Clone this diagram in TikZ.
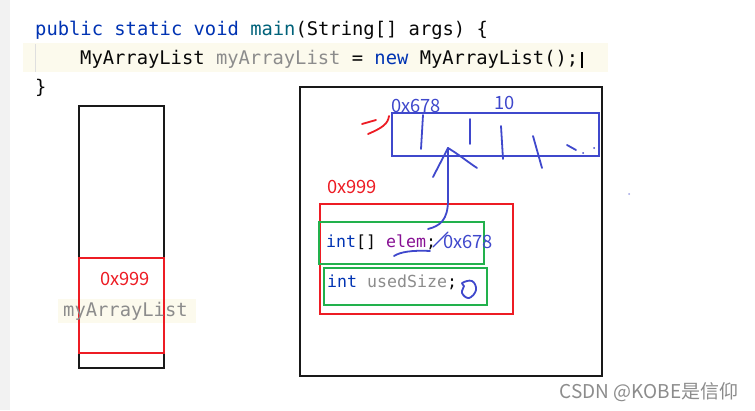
\documentclass[tikz,border=0pt]{standalone}
\usepackage{fontspec}
\newfontfamily\code{DejaVu Sans Mono}
\newfontfamily\cjk{Noto Sans CJK SC}
\definecolor{kw}{HTML}{0033B3}
\definecolor{fn}{HTML}{00627A}
\definecolor{txt}{HTML}{080808}
\definecolor{unused}{HTML}{8C8C8C}
\definecolor{fld}{HTML}{871094}
\definecolor{pblue}{HTML}{3F48CC}
\definecolor{pred}{HTML}{ED1C24}
\definecolor{pgreen}{HTML}{22B14C}
\definecolor{hl}{HTML}{FCFAED}
\definecolor{gutter}{HTML}{F2F2F2}
\begin{document}
\begin{tikzpicture}[x=1pt,y=-1pt,
  box/.style={draw=#1,line width=1.5pt,inner sep=0pt,anchor=north west},
  codeline/.style={anchor=base west,inner sep=0pt,font=\code\fontsize{18.8}{22}\selectfont,text=txt},
  fieldline/.style={anchor=west,inner sep=0pt,font=\code\fontsize{16.6}{20}\selectfont,text=txt},
  addr/.style={inner sep=0pt,font=\cjk\fontsize{18.3}{20}\selectfont},
  pen/.style={draw=#1,line width=1.8pt,line cap=round,line join=round}]
\useasboundingbox (0,0) rectangle (755,410);
\fill[white] (0,0) rectangle (755,410);
\fill[gutter] (0,0) rectangle (10,410);
% code
\fill[hl] (23,43) rectangle (608,72);
\draw[gray!25,line width=0.8pt] (35,44) -- (35,72);
\node[codeline] (l1) at (35,35) {\textcolor{kw}{public static void} \textcolor{fn}{main}(String[] args) \{};
\node[codeline] (l2) at (80,64) {MyArrayList \textcolor{unused}{myArrayList} = \textcolor{kw}{new} MyArrayList();};
\node[codeline] (l3) at (35,93) {\}};
\coordinate (curtop) at (582,52);
\coordinate (curbot) at (582,68);
\draw[black,line width=1.2pt] (curtop) -- (curbot);
% stack
\node[box=black!90,minimum width=85pt,minimum height=262pt] (stack) at (78,105) {};
\fill[hl] (58,299) rectangle (196,323);
\node[box=pred,minimum width=85pt,minimum height=95pt] (ref) at (78,257) {};
\node[addr,text=pred] (refaddr) at (125,279) {0x999};
\node[codeline,anchor=west,text=unused] (var) at (63,311) {myArrayList};
% heap
\node[box=black!90,minimum width=302pt,minimum height=289pt] (heap) at (299,86) {};
\node[box=pblue,minimum width=207pt,minimum height=43pt] (arr) at (391,112) {};
\node[addr,text=pblue,anchor=west] (arraddr) at (391,106) {0x678};
\node[addr,text=pblue,anchor=west] (len) at (494,103) {10};
\node[addr,text=pred,anchor=west] (objaddr) at (327,187) {0x999};
\node[box=pred,minimum width=193pt,minimum height=110pt] (obj) at (319,203) {};
\node[box=pgreen,minimum width=165pt,minimum height=42pt] (f1) at (318,221) {};
\node[box=pgreen,minimum width=163pt,minimum height=37pt] (f2) at (323,267) {};
\node[fieldline] (elem) at (326,242) {\textcolor{kw}{int}[] \textcolor{fld}{elem};};
\node[addr,text=pblue,anchor=west] (elemval) at (443,242) {0x678};
\node[fieldline] (used) at (327,282) {\textcolor{kw}{int} \textcolor{unused}{usedSize};};
% handwriting
\draw[pen=pred] (362,124) -- (376,120);
\draw[pen=pred] (389,116) .. controls (388,124) and (382,128) .. (368,134);
\draw[pen=pblue] (423,115) -- (421,149);
\draw[pen=pblue] (470,119) -- (470,144);
\draw[pen=pblue] (501,126) -- (503,159);
\draw[pen=pblue] (533,136) -- (542,168);
\draw[pen=pblue] (567,145) -- (576,150);
\fill[pblue] (583,153) circle (1pt) (594,148) circle (1pt);
\fill[pblue!50] (629,194) circle (1pt);
\coordinate (apex) at (448,148);
\coordinate (tail) at (428,229);
\draw[pen=pblue] (apex) -- (448,200) .. controls (448,220) and (440,226) .. (tail);
\draw[pen=pblue] (apex) -- (433,177);
\draw[pen=pblue] (apex) .. controls (458,154) and (468,162) .. (477,168);
\draw[pen=pblue,line width=1.3pt] (433,247) -- (448,232);
\draw[pen=pblue] (394,256) .. controls (400,252) and (412,250) .. (430,251);
\draw[pen=pblue] plot[smooth cycle,tension=0.7] coordinates {(462,283) (472,281) (476,290) (469,298) (462,293) (464,286)};
% watermark
\node[inner sep=0pt,font=\cjk\fontsize{19}{22}\selectfont,text=black!45] (wm) at (649,392) {CSDN @KOBE是信仰};
\end{tikzpicture}
\end{document}
